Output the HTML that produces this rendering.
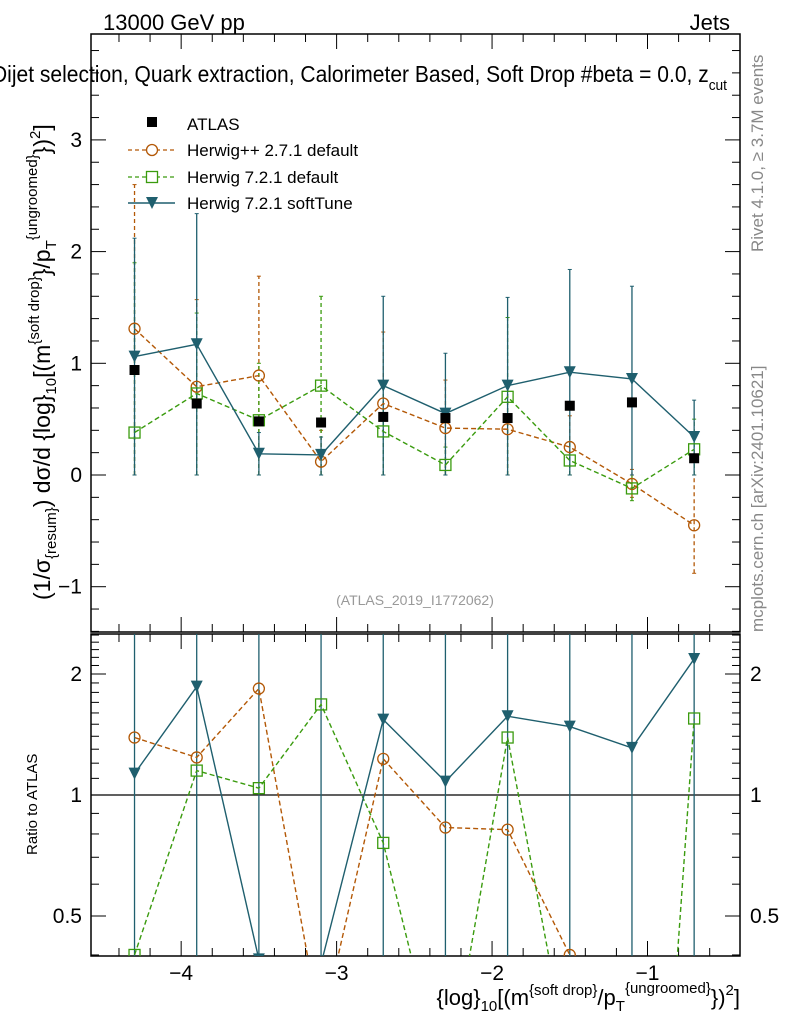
<!DOCTYPE html>
<html><head><meta charset="utf-8"><style>
html,body{margin:0;background:#fff;overflow:hidden;width:786px;height:1024px;}
svg{display:block;font-family:"Liberation Sans",sans-serif;}
</style></head><body>
<svg id="c" width="786" height="1024" xmlns="http://www.w3.org/2000/svg" overflow="hidden">
<text x="103" y="30" font-size="22">13000 GeV pp</text>
<text x="730" y="30" font-size="22" text-anchor="end">Jets</text>
<text x="-8" y="82" font-size="23" textLength="735" lengthAdjust="spacingAndGlyphs">Dijet selection, Quark extraction, Calorimeter Based, Soft Drop #beta = 0.0, z<tspan font-size="15" dy="8">cut</tspan></text>
<text transform="translate(763,252) rotate(-90)" font-size="17" fill="#888">Rivet 4.1.0, ≥ 3.7M events</text>
<text transform="translate(763,632) rotate(-90)" font-size="17" fill="#888">mcplots.cern.ch [arXiv:2401.10621]</text>
<text x="415" y="605" font-size="14" fill="#999" text-anchor="middle">(ATLAS_2019_I1772062)</text>
<text transform="translate(50,600) rotate(-90)" font-size="23">(1/σ<tspan font-size="15" dy="6">{resum}</tspan><tspan dy="-6">) dσ/d {log}</tspan><tspan font-size="15" dy="6">10</tspan><tspan dy="-6">[(m</tspan><tspan font-size="15" dy="-11">{soft drop}</tspan><tspan dy="11">}/p</tspan><tspan font-size="15" dy="6">T</tspan><tspan font-size="15" dy="-19">{ungroomed}</tspan><tspan dy="13">})</tspan><tspan font-size="15" dy="-10">2</tspan><tspan dy="10">]</tspan></text>
<text transform="translate(37,855) rotate(-90)" font-size="15">Ratio to ATLAS</text>
<text x="740" y="1005" font-size="22" text-anchor="end">{log}<tspan font-size="15" dy="6">10</tspan><tspan dy="-6">[(m</tspan><tspan font-size="15" dy="-10">{soft drop}</tspan><tspan dy="10">/p</tspan><tspan font-size="15" dy="6">T</tspan><tspan font-size="15" dy="-18">{ungroomed}</tspan><tspan dy="12">})</tspan><tspan font-size="15" dy="-10">2</tspan><tspan dy="10">]</tspan></text>
<g id="legend">
<rect x="147" y="117" width="10" height="10" fill="#000"/>
<text x="187" y="130" font-size="17">ATLAS</text>
<line x1="128" y1="150" x2="175" y2="150" stroke="#b35806" stroke-dasharray="4,3" stroke-width="1.3"/>
<circle cx="152" cy="150" r="5.5" fill="#fff" stroke="#b35806" stroke-width="1.3"/>
<text x="187" y="156" font-size="17">Herwig++ 2.7.1 default</text>
<line x1="128" y1="177" x2="175" y2="177" stroke="#3a9b0e" stroke-dasharray="4,3" stroke-width="1.3"/>
<rect x="146.5" y="171.5" width="11" height="11" fill="#fff" stroke="#3a9b0e" stroke-width="1.3"/>
<text x="187" y="183" font-size="17">Herwig 7.2.1 default</text>
<line x1="128" y1="203" x2="175" y2="203" stroke="#1f5f6e" stroke-width="1.5"/>
<path d="M146,197 L158,197 L152,209 Z" fill="#1f5f6e"/>
<text x="187" y="209" font-size="17">Herwig 7.2.1 softTune</text>
</g>
</svg>
<script>
const xs=[-4.3,-3.9,-3.5,-3.1,-2.7,-2.3,-1.9,-1.5,-1.1,-0.7];
const atlas=[0.94,0.64,0.48,0.47,0.52,0.51,0.51,0.62,0.65,0.15];
const hpp=[1.31,0.79,0.89,0.12,0.64,0.42,0.41,0.25,-0.08,-0.45];
const hppLo=[0,0,0,0,0,0,0,0,-0.2,-0.88];
const hppHi=[2.6,1.57,1.78,0.4,1.28,0.85,0.8,0.53,0.05,0];
const h7=[0.38,0.73,0.49,0.80,0.39,0.09,0.70,0.13,-0.12,0.23];
const h7Lo=[0,0,0,0,0,0,0,0,-0.23,0];
const h7Hi=[1.9,1.45,1.0,1.6,0.8,0.25,1.41,0.3,0,0.5];
const st=[1.06,1.17,0.19,0.18,0.80,0.55,0.80,0.92,0.86,0.34];
const stLo=[0,0,0,0,0,0,0,0,0,0];
const stHi=[2.12,2.34,0.38,0.34,1.6,1.09,1.59,1.84,1.69,0.67];
const rHpp=[1.39,1.24,1.84,0.26,1.23,0.83,0.82,0.40,0.01,0.01];
const rH7=[0.40,1.15,1.04,1.68,0.76,0.18,1.39,0.21,0.01,1.55];
const rSt=[1.13,1.86,0.39,0.38,1.54,1.08,1.57,1.48,1.31,2.18];
const xTicks=[-4,-3,-2,-1];
const yTicks=[-1,0,1,2,3];
const rTicks=[0.5,1,2];

const svg=document.getElementById('c');
const NS='http://www.w3.org/2000/svg';
const L=91,R=740,T=34,B=632,RT=634,RB=956;
const X=v=>L+(v+4.58)/(4.175)*(R-L);
const Y=v=>475-v*111.7;
const RY=v=>795-Math.log2(v)*121;
function el(tag,attrs,parent){const e=document.createElementNS(NS,tag);for(const k in attrs)e.setAttribute(k,attrs[k]);(parent||svg).appendChild(e);return e;}
const defs=el('defs',{});
const c1=el('clipPath',{id:'cm'},defs);el('rect',{x:L,y:T,width:R-L,height:B-T},c1);
const c2=el('clipPath',{id:'cr'},defs);el('rect',{x:L,y:RT,width:R-L,height:RB-RT},c2);
const f1=el('rect',{x:L,y:T,width:R-L,height:B-T,fill:'none',stroke:'#000','stroke-width':1.5});


const f2=el('rect',{x:L,y:RT,width:R-L,height:RB-RT,fill:'none',stroke:'#000','stroke-width':1.5});


for(let v=-4.4;v<=-0.45;v+=0.2){const major=Math.abs(v-Math.round(v))<1e-6;const len=major?15:8;const x=X(v);
 for(const [t,b] of [[T,B],[RT,RB]]){el('line',{x1:x,y1:b,x2:x,y2:b-len,stroke:'#000'});el('line',{x1:x,y1:t,x2:x,y2:t+len,stroke:'#000'});}}
xTicks.forEach(v=>{const t=el('text',{x:X(v),y:980,'font-size':21,'text-anchor':'middle'});t.textContent=(v<0?'−':'')+Math.abs(v);
 
 });
for(let v=-1.4;v<=3.9;v+=0.2){const major=Math.abs(v-Math.round(v))<1e-6;const len=major?15:8;const y=Y(v);if(y<T||y>B)continue;
 el('line',{x1:L,y1:y,x2:L+len,y2:y,stroke:'#000'});el('line',{x1:R,y1:y,x2:R-len,y2:y,stroke:'#000'});}
yTicks.forEach(v=>{const t=el('text',{x:82,y:Y(v)+7,'font-size':21,'text-anchor':'end'});t.textContent=(v<0?'−':'')+Math.abs(v);
 
 });
[0.4,0.5,0.6,0.7,0.8,0.9,1,1.1,1.2,1.3,1.4,1.5,1.6,1.7,1.8,1.9,2,2.1,2.2,2.3,2.4,2.5].forEach(v=>{const major=rTicks.includes(v);const len=major?15:8;const y=RY(v);if(y<RT||y>RB)return;
 el('line',{x1:L,y1:y,x2:L+len,y2:y,stroke:'#000'});el('line',{x1:R,y1:y,x2:R-len,y2:y,stroke:'#000'});});
rTicks.forEach(v=>{for(const [x,a] of [[82,'end'],[750,'start']]){const t=el('text',{x:x,y:RY(v)+7,'font-size':21,'text-anchor':a});t.textContent=String(v);
 
 }});
el('line',{x1:L,y1:RY(1),x2:R,y2:RY(1),stroke:'#000','stroke-width':1.2});
const gm=el('g',{'clip-path':'url(#cm)'});
const gr=el('g',{'clip-path':'url(#cr)'});
function errs(g,lo,hi,col,dash,yf){xs.forEach((x,i)=>{const e=el('line',{x1:X(x),y1:yf(lo[i]),x2:X(x),y2:yf(hi[i]),stroke:col,'stroke-width':1.3},g);if(dash)e.setAttribute('stroke-dasharray',dash);
 el('line',{x1:X(x)-2,y1:yf(hi[i]),x2:X(x)+2,y2:yf(hi[i]),stroke:col},g);
 el('line',{x1:X(x)-2,y1:yf(lo[i]),x2:X(x)+2,y2:yf(lo[i]),stroke:col},g);});}
function series(g,vals,col,dash,marker,yf,name){
 const p=el('polyline',{points:xs.map((x,i)=>X(x)+','+yf(vals[i])).join(' '),fill:'none',stroke:col,'stroke-width':1.4},g);
 if(dash)p.setAttribute('stroke-dasharray',dash);
 
 
 xs.forEach((x,i)=>{const cx=X(x),cy=yf(vals[i]);let m;
  if(marker==='circle')m=el('circle',{cx:cx,cy:cy,r:5.5,fill:'none',stroke:col,'stroke-width':1.3},g);
  else if(marker==='square')m=el('rect',{x:cx-5.5,y:cy-5.5,width:11,height:11,fill:'none',stroke:col,'stroke-width':1.3},g);
  else if(marker==='tri')m=el('path',{d:`M${cx-6},${cy-6} L${cx+6},${cy-6} L${cx},${cy+6} Z`,fill:col},g);
  else m=el('rect',{x:cx-5,y:cy-5,width:10,height:10,fill:'#000'},g);
  
  });}
errs(gm,hppLo,hppHi,'#b35806','4,3',Y);
errs(gm,h7Lo,h7Hi,'#3a9b0e','4,3',Y);
errs(gm,stLo,stHi,'#1f5f6e',null,Y);
series(gm,hpp,'#b35806','5,3','circle',Y,'herwigpp');
series(gm,h7,'#3a9b0e','5,3','square',Y,'herwig7');
series(gm,st,'#1f5f6e',null,'tri',Y,'softtune');
series(gm,atlas,'#000',null,'data',Y,'atlas');
gm.querySelectorAll('polyline').forEach(p=>{if(p.getAttribute('stroke')==='#000')p.setAttribute('stroke','none');});
const full=xs.map(()=>0.3), fullHi=xs.map(()=>3);
errs(gr,full,fullHi,'#1f5f6e',null,RY);
series(gr,rHpp,'#b35806','5,3','circle',RY,'ratio-herwigpp');
series(gr,rH7,'#3a9b0e','5,3','square',RY,'ratio-herwig7');
series(gr,rSt,'#1f5f6e',null,'tri',RY,'ratio-softtune');
</script>
</body></html>
